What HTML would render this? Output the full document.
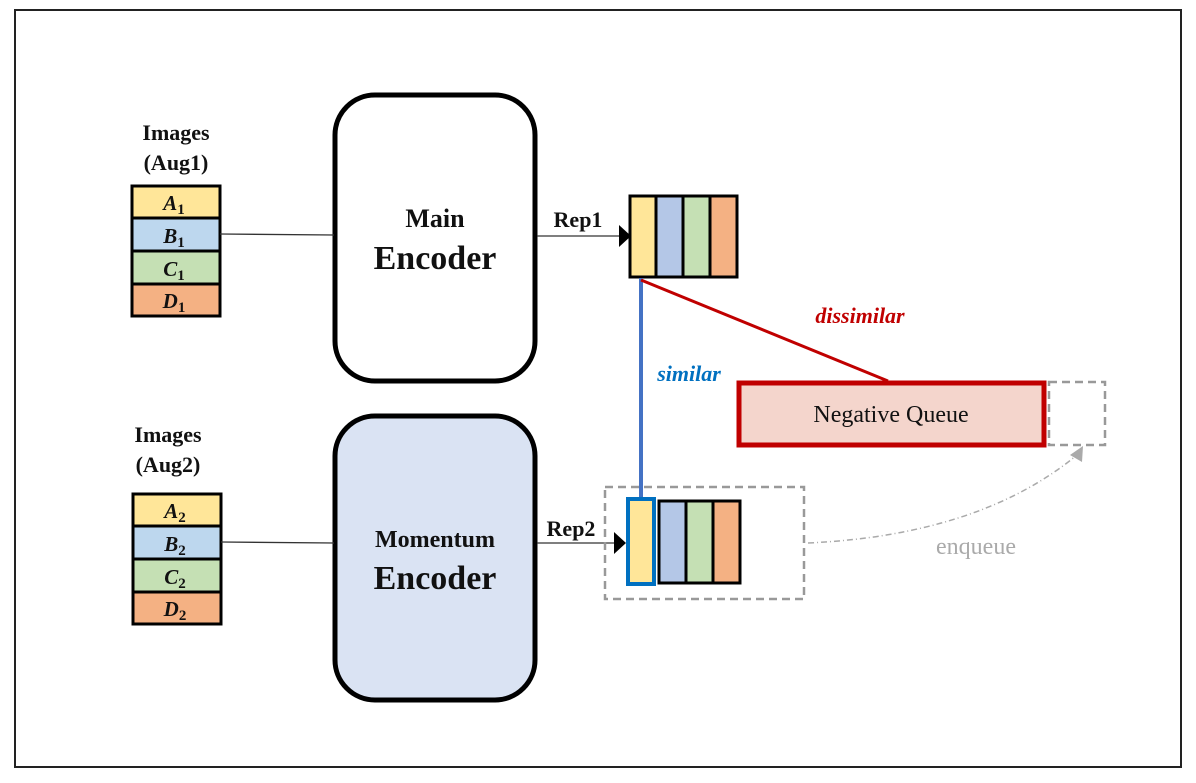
<!DOCTYPE html>
<html><head><style>body{margin:0;background:#fff}</style></head><body>
<svg width="1196" height="778" viewBox="0 0 1196 778" xmlns="http://www.w3.org/2000/svg" font-family="Liberation Serif, serif">
<rect x="15" y="10" width="1166" height="757" fill="#fff" stroke="#222" stroke-width="2"/>
<g stroke="#000" stroke-width="3">
<rect x="132" y="186" width="88" height="32" fill="#ffe699"/>
<rect x="132" y="218" width="88" height="33" fill="#bdd7ee"/>
<rect x="132" y="251" width="88" height="33" fill="#c5e0b4"/>
<rect x="132" y="284" width="88" height="32" fill="#f4b183"/>
<rect x="133" y="494" width="88" height="32" fill="#ffe699"/>
<rect x="133" y="526" width="88" height="33" fill="#bdd7ee"/>
<rect x="133" y="559" width="88" height="33" fill="#c5e0b4"/>
<rect x="133" y="592" width="88" height="32" fill="#f4b183"/>
</g>
<g font-weight="bold" font-style="italic" font-size="21" text-anchor="middle" fill="#111">
<text x="174" y="210">A<tspan font-size="15" dy="4" font-style="normal">1</tspan></text>
<text x="174" y="243">B<tspan font-size="15" dy="4" font-style="normal">1</tspan></text>
<text x="174" y="276">C<tspan font-size="15" dy="4" font-style="normal">1</tspan></text>
<text x="174" y="308">D<tspan font-size="15" dy="4" font-style="normal">1</tspan></text>
<text x="175" y="518">A<tspan font-size="15" dy="4" font-style="normal">2</tspan></text>
<text x="175" y="551">B<tspan font-size="15" dy="4" font-style="normal">2</tspan></text>
<text x="175" y="584">C<tspan font-size="15" dy="4" font-style="normal">2</tspan></text>
<text x="175" y="616">D<tspan font-size="15" dy="4" font-style="normal">2</tspan></text>
</g>
<g font-weight="bold" font-size="22" text-anchor="middle" fill="#111">
<text x="176" y="140">Images</text><text x="176" y="170">(Aug1)</text>
<text x="168" y="442">Images</text><text x="168" y="472">(Aug2)</text>
</g>
<rect x="335" y="95" width="200" height="286" rx="40" fill="#fff" stroke="#000" stroke-width="5"/>
<rect x="335" y="416" width="200" height="284" rx="40" fill="#dae3f3" stroke="#000" stroke-width="5"/>
<g font-weight="bold" text-anchor="middle" fill="#111">
<text x="435" y="227" font-size="26">Main</text>
<text x="435" y="269" font-size="34">Encoder</text>
<text x="435" y="547" font-size="24">Momentum</text>
<text x="435" y="589" font-size="34">Encoder</text>
<text x="578" y="227" font-size="22">Rep1</text>
<text x="571" y="536" font-size="22">Rep2</text>
</g>
<line x1="220" y1="234" x2="334" y2="235" stroke="#333" stroke-width="1.3"/>
<line x1="221" y1="542" x2="334" y2="543" stroke="#333" stroke-width="1.3"/>
<line x1="537" y1="236" x2="622" y2="236" stroke="#333" stroke-width="1.3"/>
<polygon points="619,225 631,236 619,247" fill="#000"/>
<line x1="537" y1="543" x2="618" y2="543" stroke="#333" stroke-width="1.3"/>
<polygon points="614,532 626,543 614,554" fill="#000"/>
<g stroke="#000" stroke-width="3">
<rect x="630" y="196" width="26" height="81" fill="#ffe699"/>
<rect x="656" y="196" width="27" height="81" fill="#b4c7e7"/>
<rect x="683" y="196" width="27" height="81" fill="#c5e0b4"/>
<rect x="710" y="196" width="27" height="81" fill="#f4b183"/>
</g>
<rect x="605" y="487" width="199" height="112" fill="none" stroke="#999" stroke-width="2.5" stroke-dasharray="8,5"/>
<rect x="1049" y="382" width="56" height="63" fill="none" stroke="#999" stroke-width="2.5" stroke-dasharray="8,5"/>
<g stroke="#000" stroke-width="3">
<rect x="659" y="501" width="27" height="82" fill="#b4c7e7"/>
<rect x="686" y="501" width="27" height="82" fill="#c5e0b4"/>
<rect x="713" y="501" width="27" height="82" fill="#f4b183"/>
</g>
<rect x="628" y="499" width="26" height="85" fill="#ffe699" stroke="#0070c0" stroke-width="4"/>
<line x1="641" y1="278" x2="641" y2="497" stroke="#4472c4" stroke-width="4"/>
<line x1="641" y1="280" x2="888" y2="381" stroke="#c00000" stroke-width="3"/>
<rect x="739" y="383" width="305" height="62" fill="#f4d5cc" stroke="#c00000" stroke-width="5"/>
<text x="891" y="422" font-size="24" text-anchor="middle" fill="#111">Negative Queue</text>
<text x="860" y="323" font-size="22" font-weight="bold" font-style="italic" fill="#c00000" text-anchor="middle">dissimilar</text>
<text x="689" y="381" font-size="22" font-weight="bold" font-style="italic" fill="#0070c0" text-anchor="middle">similar</text>
<path d="M808 543 Q980 535 1077 455" fill="none" stroke="#aaa" stroke-width="1.5" stroke-dasharray="6,3,1,3"/>
<polygon points="1070,455 1083,446 1082,462" fill="#aaa"/>
<text x="976" y="554" font-size="24" fill="#aaa" text-anchor="middle">enqueue</text>
</svg>
</body></html>
